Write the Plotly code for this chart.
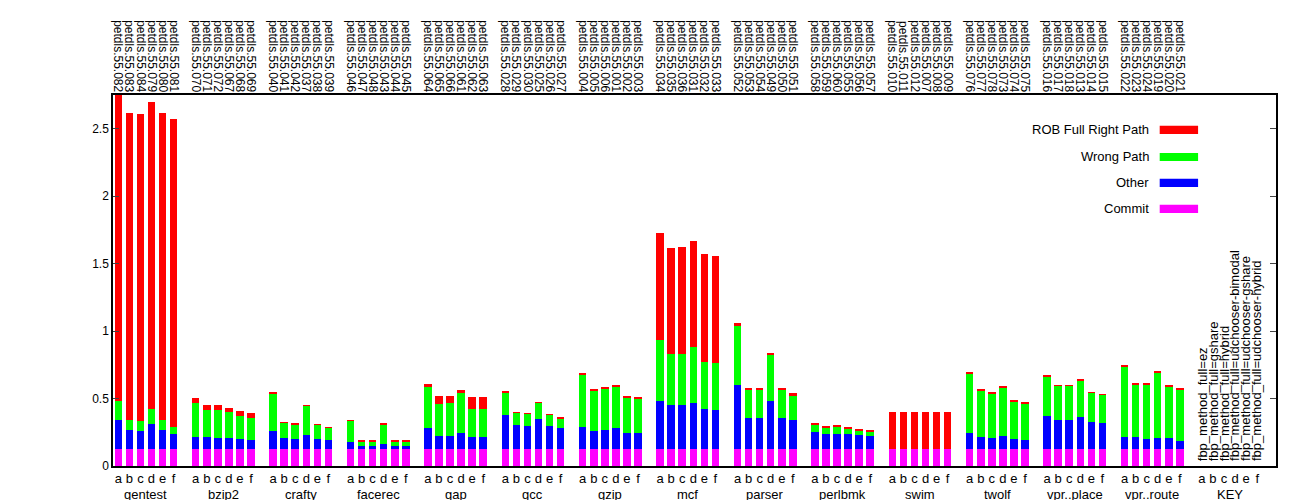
import plotly.graph_objects as go

groups = ["gentest", "bzip2", "crafty", "facerec", "gap", "gcc", "gzip", "mcf",
          "parser", "perlbmk", "swim", "twolf", "vpr..place", "vpr..route"]
letters = ["a", "b", "c", "d", "e", "f"]
run_ids = [
    "082 083 084 079 080 081", "070 071 072 067 068 069", "040 041 042 037 038 039",
    "046 047 048 043 044 045", "064 065 066 061 062 063", "028 029 030 025 026 027",
    "004 005 006 001 002 003", "034 035 036 031 032 033", "052 053 054 049 050 051",
    "058 059 060 055 056 057", "010 011 012 007 008 009", "076 077 078 073 074 075",
    "016 017 018 013 014 015", "022 023 024 019 020 021"]
key_labels = ["fbp_method_full=ez", "fbp_method_full=gshare", "fbp_method_full=hybrid",
              "fbp_method_full=udchooser-bimodal", "fbp_method_full=udchooser-gshare",
              "fbp_method_full=udchooser-hybrid"]

commit = [0.125] * 84
# cumulative tops of each stacked level (commit+other, +wrong path, +ROB)
other_top = [0.341, 0.265, 0.26, 0.31, 0.267, 0.237,
             0.215, 0.213, 0.205, 0.205, 0.20, 0.193,
             0.26, 0.208, 0.198, 0.232, 0.203, 0.193,
             0.176, 0.151, 0.151, 0.163, 0.148, 0.148,
             0.282, 0.22, 0.225, 0.242, 0.215, 0.215,
             0.378, 0.306, 0.30, 0.346, 0.30, 0.282,
             0.292, 0.26, 0.267, 0.28, 0.245, 0.245,
             0.482, 0.453, 0.45, 0.47, 0.42, 0.415,
             0.603, 0.358, 0.358, 0.485, 0.358, 0.341,
             0.25, 0.237, 0.24, 0.237, 0.227, 0.225,
             0.125, 0.125, 0.125, 0.125, 0.125, 0.125,
             0.242, 0.215, 0.21, 0.222, 0.198, 0.195,
             0.373, 0.341, 0.341, 0.366, 0.324, 0.319,
             0.215, 0.213, 0.198, 0.205, 0.205, 0.185]
wrong_top = [0.48, 0.341, 0.33, 0.42, 0.341, 0.29,
             0.467, 0.418, 0.418, 0.40, 0.371, 0.358,
             0.541, 0.319, 0.311, 0.445, 0.307, 0.282,
             0.336, 0.178, 0.178, 0.309, 0.178, 0.178,
             0.584, 0.46, 0.467, 0.539, 0.423, 0.423,
             0.547, 0.393, 0.39, 0.47, 0.378, 0.354,
             0.672, 0.559, 0.571, 0.584, 0.504, 0.50,
             0.937, 0.831, 0.833, 0.885, 0.774, 0.764,
             1.041, 0.564, 0.562, 0.821, 0.562, 0.519,
             0.307, 0.284, 0.289, 0.274, 0.259, 0.254,
             0.125, 0.125, 0.125, 0.125, 0.125, 0.125,
             0.687, 0.556, 0.539, 0.579, 0.477, 0.462,
             0.663, 0.593, 0.593, 0.636, 0.542, 0.527,
             0.734, 0.603, 0.601, 0.695, 0.588, 0.564]
rob_top = [2.75, 2.62, 2.61, 2.70, 2.62, 2.57,
           0.502, 0.453, 0.453, 0.43, 0.405, 0.393,
           0.543, 0.32, 0.312, 0.446, 0.31, 0.283,
           0.34, 0.193, 0.195, 0.313, 0.193, 0.193,
           0.606, 0.517, 0.519, 0.566, 0.512, 0.512,
           0.55, 0.395, 0.392, 0.472, 0.38, 0.356,
           0.69, 0.573, 0.586, 0.601, 0.519, 0.514,
           1.728, 1.617, 1.622, 1.671, 1.568, 1.56,
           1.059, 0.581, 0.581, 0.841, 0.581, 0.539,
           0.321, 0.299, 0.307, 0.292, 0.274, 0.269,
           0.40, 0.40, 0.40, 0.40, 0.40, 0.40,
           0.697, 0.566, 0.544, 0.586, 0.49, 0.47,
           0.668, 0.595, 0.595, 0.64, 0.544, 0.529,
           0.744, 0.616, 0.608, 0.705, 0.601, 0.573]

other = [o - c for o, c in zip(other_top, commit)]
wrong = [w - o for w, o in zip(wrong_top, other_top)]
rob = [r - w for r, w in zip(rob_top, wrong_top)]

xs = [g * 7 + i for g in range(len(groups)) for i in range(6)]
top_text = ["petdls.55." + rid for ids in run_ids for rid in ids.split()]

series = [("Commit", commit, "#ff00ff"), ("Other", other, "#0000ff"),
          ("Wrong Path", wrong, "#00ff00"), ("ROB Full Right Path", rob, "#ff0000")]

fig = go.Figure()
for name, vals, col in series:
    fig.add_trace(go.Bar(x=xs, y=vals, name=name, marker_color=col,
                         marker_line_width=0, width=0.68, showlegend=False))
fig.add_trace(go.Scatter(x=xs, y=[0] * len(xs), xaxis="x2", mode="markers",
                         marker_opacity=0, showlegend=False, hoverinfo="skip"))

key_x = [len(groups) * 7 + i for i in range(6)]
all_ticks = xs + key_x
font = dict(family="Liberation Sans, Arial", size=12, color="black")
rng = [-0.48, 104.7]
fig.update_layout(
    width=1298, height=500, barmode="stack", bargap=0,
    plot_bgcolor="white", paper_bgcolor="white",
    margin=dict(l=105, r=30, t=87, b=42, autoexpand=False), font=font,
    xaxis=dict(range=rng, tickvals=all_ticks, ticktext=letters * (len(groups) + 1),
               ticks="", showgrid=False, zeroline=False, showline=True, automargin=False,
               linecolor="black", linewidth=1.5, mirror=True, tickfont=dict(size=13)),
    xaxis2=dict(range=rng, overlaying="x", side="top", tickvals=xs, ticktext=top_text,
                tickangle=90, ticks="", showgrid=False, zeroline=False, automargin=False,
                tickfont=dict(size=12)),
    yaxis=dict(range=[0, 2.75], tickvals=[0, 0.5, 1, 1.5, 2, 2.5],
               ticktext=["0", "0.5", "1", "1.5", "2", "2.5"], ticks="inside",
               ticklen=6, showgrid=False, zeroline=False, showline=True, automargin=False,
               linecolor="black", linewidth=1.5, mirror="ticks", tickfont=dict(size=12)),
)
for g, name in enumerate(groups + ["KEY"]):
    fig.add_annotation(x=g * 7 + 2.5, y=0, yref="paper", yshift=-19, text=name,
                       showarrow=False, yanchor="top", font=dict(size=13))
for kx, kl in zip(key_x, key_labels):
    fig.add_annotation(x=kx, y=0.02, text=kl, textangle=-90, showarrow=False,
                       yanchor="bottom", xanchor="center", font=dict(size=13))
leg_y = [0.906, 0.833, 0.763, 0.693]
for (name, _, col), yy in zip(reversed(series), leg_y):
    fig.add_annotation(x=0.8925, y=yy, xref="paper", yref="paper", text=name,
                       showarrow=False, xanchor="right", yanchor="middle", font=dict(size=13))
    fig.add_shape(type="rect", xref="paper", yref="paper", x0=0.900, x1=0.933,
                  y0=yy - 0.011, y1=yy + 0.011, fillcolor=col, line_width=0)
fig.write_html("out.html")
